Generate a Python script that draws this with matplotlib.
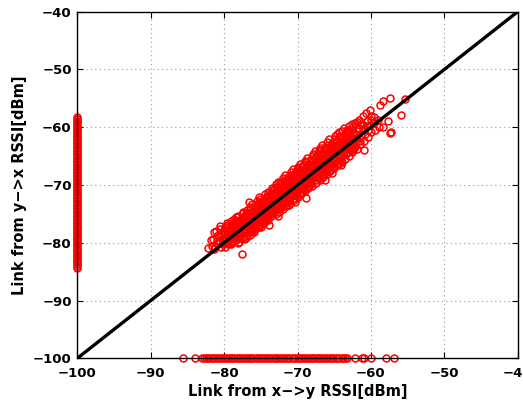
import matplotlib
matplotlib.use("Agg")
import matplotlib.pyplot as plt

# ---- data (dBm): RSSI pairs (x->y, y->x) for links heard in both directions ----
cloud_x = [
    -82.13,-81.82,
    -81.68,-81.41,-81.57,-81.33,
    -81.09,-80.93,-81.18,-80.84,-81.02,
    -80.61,-80.43,-80.67,-80.36,-80.52,-80.57,
    -80.08,-79.92,-80.17,-79.86,-80.03,-80.12,-79.95,
    -79.58,-79.42,-79.66,-79.35,-79.52,-79.61,-79.44,-79.49,
    -79.07,-78.93,-79.16,-78.86,-79.03,-78.96,-79.21,-78.84,-79.12,
    -78.58,-78.42,-78.66,-78.37,-78.53,-78.45,-78.71,-78.34,-78.61,-78.48,
    -78.12,-77.91,-78.23,-77.85,-78.04,-78.17,-77.96,-78.08,-77.88,-78.19,-77.99,
    -77.52,-77.38,-77.66,-77.44,-77.71,-77.29,-77.57,-77.35,-77.63,-77.48,-77.41,-77.69,
    -77.09,-76.93,-77.18,-76.84,-77.03,-76.97,-77.14,-76.88,-77.22,-76.91,-77.06,-76.82,
    -76.58,-76.41,-76.67,-76.36,-76.52,-76.44,-76.71,-76.33,-76.61,-76.47,-76.39,-76.55,-76.64,
    -76.11,-75.92,-76.19,-75.86,-76.04,-75.97,-76.23,-75.83,-76.08,-75.95,-76.15,-75.89,-76.02,
    -75.57,-75.42,-75.66,-75.34,-75.51,-75.46,-75.72,-75.38,-75.61,-75.44,-75.55,-75.31,-75.69,
    -75.06,-74.91,-75.17,-74.87,-75.02,-74.95,-75.21,-74.83,-75.11,-74.98,-75.14,-74.89,-75.04,-74.93,
    -74.62,-74.39,-74.58,-74.33,-74.51,-74.46,-74.69,-74.37,-74.55,-74.42,-74.64,-74.35,-74.48,-74.60,
    -74.08,-73.94,-74.16,-73.85,-74.03,-73.97,-74.22,-73.88,-74.11,-73.91,-74.05,-73.82,-74.19,-73.99,
    -73.56,-73.43,-73.64,-73.36,-73.52,-73.47,-73.71,-73.32,-73.59,-73.41,-73.67,-73.38,-73.54,-73.45,
    -73.07,-72.92,-73.16,-72.86,-73.03,-72.96,-73.21,-72.84,-73.12,-72.94,-73.09,-72.89,-73.18,-72.98,
    -72.58,-72.42,-72.66,-72.37,-72.53,-72.45,-72.71,-72.34,-72.61,-72.44,-72.56,-72.39,-72.68,-72.47,
    -72.09,-71.93,-72.17,-71.86,-72.04,-71.96,-72.22,-71.84,-72.12,-71.91,-72.06,-71.88,-72.14,-71.98,
    -71.57,-71.42,-71.66,-71.35,-71.52,-71.46,-71.71,-71.33,-71.61,-71.44,-71.55,-71.38,-71.68,-71.49,
    -71.08,-70.92,-71.16,-70.86,-71.03,-70.96,-71.21,-70.84,-71.12,-70.94,-71.06,-70.89,-71.18,-70.98,
    -70.56,-70.43,-70.64,-70.36,-70.52,-70.47,-70.71,-70.32,-70.59,-70.41,-70.67,-70.38,-70.54,-70.45,
    -70.07,-69.92,-70.16,-69.86,-70.03,-69.96,-70.21,-69.84,-70.12,-69.94,-70.09,-69.89,-70.18,-69.98,
    -69.58,-69.42,-69.66,-69.37,-69.53,-69.45,-69.71,-69.34,-69.61,-69.44,-69.56,-69.39,-69.68,-69.47,
    -69.07,-68.93,-69.17,-68.86,-69.03,-68.96,-69.22,-68.84,-69.12,-68.91,-69.05,-68.88,-69.14,-68.98,
    -68.57,-68.42,-68.66,-68.35,-68.52,-68.46,-68.71,-68.33,-68.61,-68.44,-68.55,-68.38,-68.68,-68.49,
    -68.08,-67.92,-68.16,-67.86,-68.03,-67.96,-68.21,-67.84,-68.12,-67.94,-68.06,-67.89,-68.18,-67.98,
    -67.56,-67.43,-67.64,-67.36,-67.52,-67.47,-67.71,-67.32,-67.59,-67.41,-67.67,-67.38,-67.54,-67.45,
    -67.07,-66.92,-67.16,-66.86,-67.03,-66.96,-67.21,-66.84,-67.12,-66.94,-67.09,-66.89,-67.18,-66.98,
    -66.58,-66.42,-66.66,-66.37,-66.53,-66.45,-66.71,-66.34,-66.61,-66.44,-66.56,-66.39,-66.68,
    -66.07,-65.93,-66.17,-65.86,-66.03,-65.96,-66.22,-65.84,-66.12,-65.91,-66.05,-65.88,-66.14,
    -65.57,-65.42,-65.66,-65.35,-65.52,-65.46,-65.71,-65.33,-65.61,-65.44,-65.55,-65.38,
    -65.08,-64.92,-65.16,-64.86,-65.03,-64.96,-65.21,-64.84,-65.12,-64.94,-65.06,-64.89,
    -64.56,-64.43,-64.64,-64.36,-64.52,-64.47,-64.71,-64.32,-64.59,-64.41,-64.40,
    -64.07,-63.92,-64.16,-63.86,-64.03,-63.96,-64.21,-63.84,-64.12,-63.94,
    -63.58,-63.42,-63.66,-63.37,-63.53,-63.45,-63.71,-63.34,-63.21,-63.48,
    -63.07,-62.93,-63.17,-62.86,-63.03,-62.96,-63.21,-62.84,-63.12,
    -62.56,-62.43,-62.64,-62.36,-62.52,-62.47,-62.71,-62.38,
    -62.07,-61.92,-62.16,-61.86,-62.03,-61.96,-62.19,
    -61.58,-61.42,-61.66,-61.35,-61.52,-61.47,
    -61.07,-60.93,-61.16,-60.86,-61.03,
    -60.56,-60.43,-60.64,-60.36,-60.52,
    -60.08,-59.92,-60.03,-60.12,
    -59.57,-59.42,-59.51,
    -59.08,-58.91,
    -58.40,-58.70,-57.40,-55.40,-55.90,-57.20,-57.40,-58.30,-57.70,-60.00,
]
cloud_y = [
    -80.9,-79.6,
    -80.5,-78.1,-79.3,-81.1,
    -78.0,-79.5,-80.8,-78.7,-80.1,
    -77.6,-80.7,-79.0,-78.3,-79.8,-77.1,
    -78.5,-77.3,-80.3,-79.2,-77.8,-79.7,-80.0,
    -77.9,-80.2,-76.6,-79.4,-78.4,-76.9,-79.8,-77.2,
    -76.2,-79.9,-78.4,-77.0,-80.0,-77.6,-79.2,-76.5,-78.8,
    -77.1,-79.6,-75.8,-78.2,-76.4,-79.2,-77.7,-75.5,-78.9,-76.9,
    -77.4,-79.8,-75.6,-78.3,-76.7,-80.1,-77.9,-75.3,-79.1,-76.2,-78.8,
    -81.9,-76.1,-78.6,-74.9,-77.3,-79.4,-75.7,-78.0,-76.6,-79.0,-74.6,-77.8,
    -75.3,-78.9,-76.8,-74.4,-77.6,-79.2,-75.9,-77.1,-78.3,-74.9,-76.2,-78.0,
    -73.0,-77.8,-75.1,-76.4,-78.6,-74.3,-77.2,-75.7,-76.9,-73.8,-78.1,-74.8,-76.0,
    -74.6,-77.3,-73.3,-76.1,-78.0,-75.2,-76.8,-73.9,-77.6,-74.9,-75.6,-78.2,-76.4,
    -76.2,-73.1,-77.5,-74.7,-75.5,-72.8,-76.9,-74.0,-75.9,-77.1,-73.6,-75.1,-74.3,
    -72.4,-75.8,-76.9,-73.7,-74.6,-77.2,-72.1,-75.2,-73.2,-76.4,-74.1,-75.5,-76.0,-73.0,
    -75.1,-72.3,-76.5,-73.6,-74.2,-71.6,-75.9,-73.0,-74.8,-76.2,-72.7,-74.5,-73.3,-75.6,
    -71.2,-74.4,-75.7,-72.6,-73.3,-76.1,-71.9,-74.9,-72.2,-73.8,-75.2,-73.0,-74.1,-72.8,
    -73.9,-70.6,-75.4,-72.0,-74.6,-72.9,-71.3,-75.0,-73.4,-70.9,-74.2,-72.5,-71.7,-73.1,
    -72.3,-69.9,-74.7,-71.4,-73.5,-75.1,-70.7,-72.9,-74.1,-71.1,-73.1,-70.3,-72.0,-74.4,
    -70.4,-73.7,-69.4,-72.4,-74.6,-71.0,-73.2,-70.0,-71.8,-74.0,-72.8,-69.7,-71.4,-73.5,
    -71.6,-68.8,-73.3,-70.3,-72.5,-74.1,-69.5,-71.0,-73.8,-70.8,-72.1,-69.1,-72.9,-71.3,
    -69.4,-72.6,-68.3,-71.1,-73.6,-70.0,-72.2,-68.9,-70.6,-73.1,-71.7,-69.7,-72.9,-70.3,
    -70.9,-67.8,-72.4,-69.3,-71.6,-73.1,-68.5,-70.2,-72.8,-69.9,-71.2,-68.2,-72.0,-70.5,
    -68.4,-71.8,-67.3,-70.2,-72.6,-69.0,-71.3,-67.9,-69.7,-72.2,-70.8,-68.7,-71.0,-69.4,
    -69.8,-66.8,-71.5,-68.3,-70.6,-72.1,-67.5,-69.2,-71.9,-68.9,-70.2,-67.1,-71.1,-69.5,
    -67.4,-70.7,-66.3,-69.2,-71.6,-68.0,-70.3,-66.9,-68.6,-71.2,-69.8,-67.7,-70.0,-68.3,
    -68.9,-65.8,-70.4,-67.3,-69.6,-71.1,-66.5,-68.2,-70.8,-67.9,-69.2,-66.1,-70.0,-68.5,
    -66.4,-69.7,-65.3,-68.2,-70.6,-67.0,-69.3,-65.9,-67.6,-70.2,-68.8,-66.7,-69.0,-67.3,
    -67.9,-64.7,-69.4,-66.3,-68.6,-70.1,-65.5,-67.2,-69.8,-66.9,-68.2,-65.0,-69.0,-67.5,
    -65.4,-68.7,-64.2,-67.2,-69.6,-66.0,-68.3,-64.9,-66.6,-69.2,-67.8,-65.7,-68.0,-66.3,
    -66.9,-63.6,-68.4,-65.3,-67.6,-69.1,-64.5,-66.2,-68.8,-65.9,-67.2,-64.0,-68.0,-66.5,
    -64.4,-67.7,-63.1,-66.2,-68.6,-65.0,-67.3,-63.9,-65.6,-68.2,-66.8,-64.7,-67.0,
    -65.9,-62.6,-67.4,-64.3,-66.6,-68.1,-63.5,-65.2,-67.8,-64.9,-66.2,-63.0,-67.0,
    -63.4,-66.7,-62.1,-65.2,-67.6,-64.0,-66.3,-62.9,-64.6,-67.2,-65.8,-63.7,
    -64.9,-61.5,-66.4,-63.3,-65.6,-67.1,-62.5,-64.2,-66.8,-63.9,-65.2,-62.0,
    -62.4,-65.7,-61.2,-64.2,-66.6,-63.0,-65.3,-61.9,-63.6,-66.2,-60.9,
    -63.9,-60.6,-65.4,-62.3,-64.6,-66.1,-61.5,-63.2,-65.8,-62.8,
    -61.4,-64.7,-60.2,-63.2,-65.5,-62.0,-64.2,-60.8,-60.9,-62.6,
    -62.9,-59.8,-64.3,-61.3,-63.6,-64.9,-60.5,-62.2,-61.7,
    -60.4,-63.7,-59.4,-62.2,-64.3,-61.0,-63.0,-59.9,
    -61.9,-59.1,-63.4,-60.3,-62.6,-63.8,-59.2,
    -60.2,-62.9,-58.7,-61.5,-62.3,-59.6,
    -58.1,-62.4,-59.4,-61.2,-60.3,
    -59.7,-61.7,-57.6,-60.5,-58.9,
    -57.0,-60.9,-58.0,-59.6,
    -58.2,-60.4,-59.3,
    -58.8,-59.9,
    -55.5,-56.1,-54.9,-55.1,-57.9,-60.8,-61.0,-59.9,-59.0,-58.7,
]

# the solid core of the cloud, close to the diagonal
core_x = [
    -79.90,-79.78,-80.00, -79.55,-79.43,-79.65, -79.20,-79.08,-79.30,
    -78.85,-78.73,-78.95, -78.50,-78.38,-78.60, -78.15,-78.03,-78.25,
    -77.80,-77.68,-77.90, -77.45,-77.33,-77.55, -77.10,-76.98,-77.20,
    -76.75,-76.63,-76.85, -76.40,-76.28,-76.50, -76.05,-75.93,-76.15,
    -75.70,-75.58,-75.80, -75.35,-75.23,-75.45, -75.00,-74.88,-75.10,
    -74.65,-74.53,-74.75, -74.30,-74.18,-74.40, -73.95,-73.83,-74.05,
    -73.60,-73.48,-73.70, -73.25,-73.13,-73.35, -72.90,-72.78,-73.00,
    -72.55,-72.43,-72.65, -72.20,-72.08,-72.30, -71.85,-71.73,-71.95,
    -71.50,-71.38,-71.60, -71.15,-71.03,-71.25, -70.80,-70.68,-70.90,
    -70.45,-70.33,-70.55, -70.10,-69.98,-70.20, -69.75,-69.63,-69.85,
    -69.40,-69.28,-69.50, -69.05,-68.93,-69.15, -68.70,-68.58,-68.80,
    -68.35,-68.23,-68.45, -68.00,-67.88,-68.10, -67.65,-67.53,-67.75,
    -67.30,-67.18,-67.40, -66.95,-66.83,-67.05, -66.60,-66.48,-66.70,
    -66.25,-66.13,-66.35, -65.90,-65.78,-66.00, -65.55,-65.43,-65.65,
    -65.20,-65.08,-65.30, -64.85,-64.73,-64.95, -64.50,-64.38,-64.60,
    -64.15,-64.03,-64.25, -63.80,-63.68,-63.90, -63.45,-63.33,-63.55,
    -63.10,-62.98,-63.20, -62.75,-62.63,-62.85, -62.40,-62.28,-62.50,
]
core_y = [
    -80.8,-79.2,-78.2, -78.6,-77.3,-80.1, -79.0,-80.3,-78.0,
    -78.5,-79.7,-77.0, -79.1,-77.5,-77.0, -78.0,-79.2,-77.0,
    -78.7,-77.1,-76.1, -78.1,-76.4,-76.0, -76.1,-74.9,-77.6,
    -76.4,-77.6,-74.9, -76.2,-77.5,-75.2, -76.7,-75.0,-74.6,
    -76.6,-75.0,-74.0, -75.0,-76.2,-73.5, -74.0,-72.8,-75.5,
    -74.5,-75.7,-73.5, -74.9,-73.3,-72.8, -74.9,-73.2,-72.3,
    -72.6,-71.4,-74.1, -72.9,-74.1,-71.4, -72.7,-74.0,-71.7,
    -73.5,-71.8,-70.9, -72.8,-71.2,-70.7, -70.9,-69.6,-72.4,
    -71.1,-72.4,-69.6, -71.0,-72.2,-70.0, -71.4,-69.8,-69.3,
    -71.4,-69.7,-68.8, -69.1,-67.9,-70.6, -69.4,-70.6,-67.9,
    -69.2,-70.5,-68.2, -69.7,-68.0,-67.6, -69.6,-68.0,-67.0,
    -68.0,-69.2,-66.5, -67.0,-65.8,-68.5, -67.5,-68.7,-66.5,
    -67.9,-66.3,-65.8, -67.9,-66.2,-65.3, -65.6,-64.4,-67.1,
    -65.9,-67.1,-64.4, -65.7,-67.0,-64.7, -66.2,-64.5,-64.1,
    -66.1,-64.5,-63.5, -63.9,-62.6,-65.4, -64.1,-65.4,-62.6,
    -64.0,-65.2,-63.0, -64.4,-62.8,-62.3, -64.4,-62.7,-61.8,
    -62.1,-60.9,-63.6, -62.4,-63.6,-60.9, -62.2,-63.5,-61.2,
]

# scattered points on the edges of the cloud
edge_x = [-75.3, -73.9, -71.2, -68.9, -66.2, -64.1, -62.5, -61.0,
          -67.1, -62.1, -70.3, -72.6, -65.3]
edge_y = [-77.2, -76.9, -73.4, -72.3, -69.1, -66.5, -63.9, -63.9,
          -64.2, -59.2, -73.0, -75.4, -68.0]

# links where only y->x was heard (x->y logged as -100)
left_y = [
    -58.2,-58.5,-58.9,-59.1,-59.4,-59.8,-60.0,-60.3,-60.6,-60.8,
    -61.1,-61.5,-61.7,-62.0,-62.2,-62.6,-62.8,-63.1,-63.4,-63.6,
    -63.9,-64.2,-64.5,-64.7,-65.0,-65.3,-65.5,-65.8,-66.1,-66.3,
    -66.6,-66.9,-67.2,-67.4,-67.7,-68.0,-68.2,-68.5,-68.8,-69.0,
    -69.3,-69.6,-69.9,-70.1,-70.4,-70.7,-70.9,-71.2,-71.5,-71.8,
    -72.0,-72.3,-72.6,-72.8,-73.1,-73.4,-73.6,-73.9,-74.2,-74.5,
    -74.7,-75.0,-75.3,-75.5,-75.8,-76.1,-76.4,-76.6,-76.9,-77.2,
    -77.4,-77.7,-78.0,-78.3,-78.5,-78.8,-79.1,-79.3,-79.6,-79.9,
    -80.2,-80.4,-80.7,-81.0,-81.2,-81.5,-81.8,-82.1,-82.3,-82.6,
    -82.9,-83.1,-83.4,-83.7,-84.0,-84.4,
]
left_x = [-100.0] * len(left_y)

# links where only x->y was heard (y->x logged as -100)
bottom_x = [
    -85.6,-84.0,
    -83.0,-82.8,-82.5,-82.2,-82.0,-81.7,-81.5,-81.2,-80.9,-80.7,
    -80.4,-80.2,-79.9,-79.6,-79.4,-79.1,-78.9,-78.6,-78.3,-78.1,
    -77.8,-77.6,-77.3,-77.0,-76.8,-76.5,-76.3,-76.0,-75.7,-75.5,
    -75.2,-75.0,-74.7,-74.4,-74.2,-73.9,-73.7,-73.4,-73.1,-72.9,
    -72.6,-72.4,-72.1,-71.8,-71.6,-71.3,-71.1,-70.8,-70.5,-70.3,
    -70.0,-69.8,-69.5,-69.2,-69.0,-68.7,-68.5,-68.2,-67.9,-67.7,
    -67.4,-67.2,-66.9,-66.6,-66.4,-66.1,-65.9,-65.6,-65.3,-65.1,
    -64.8,-64.6,-64.3,-64.0,-63.8,-63.5,-63.2,
    -62.2,-61.2,-60.9,-60.0,-58.0,-56.9,
]
bottom_y = [-100.0] * len(bottom_x)

diag = [-100, -40]
ticks = [-100, -90, -80, -70, -60, -50, -40]

plt.rcParams['font.family'] = ['DejaVu Sans']

fig = plt.figure(figsize=(5.23, 4.03), dpi=100)
ax = fig.add_axes([77.3/523, (403-358.3)/403, (517.7-77.3)/523, (358.3-11.7)/403])

mk = dict(marker='o', linestyle='none', markersize=5.0, markerfacecolor='none',
          markeredgecolor='#ff0000', markeredgewidth=1.1, clip_on=False, zorder=3)
ax.plot(left_x, left_y, **mk)
ax.plot(bottom_x, bottom_y, **mk)
ax.plot(cloud_x, cloud_y, **mk)
ax.plot(core_x, core_y, **mk)
ax.plot(edge_x, edge_y, **mk)
ax.plot(diag, diag, color='black', linewidth=2.4, zorder=5)

ax.set_xlim(-100, -40)
ax.set_ylim(-100, -40)
ax.set_xticks(ticks)
ax.set_yticks(ticks)
ax.grid(True, linestyle=(0, (1, 3)), color='#999999', linewidth=0.8)
ax.set_axisbelow(True)
ax.tick_params(direction='in', top=True, right=True, length=4, width=0.8,
               labelsize=9.5)
ax.tick_params(axis='x', pad=6.5)
ax.tick_params(axis='y', pad=4)
for lab in ax.get_xticklabels() + ax.get_yticklabels():
    lab.set_fontweight('bold')
for s in ax.spines.values():
    s.set_linewidth(1.0)
    s.set_zorder(6)

ax.set_xlabel('Link from x\u2212>y RSSI[dBm]', fontsize=10.5, fontweight='bold', labelpad=3)
ax.set_ylabel('Link from y\u2212>x RSSI[dBm]', fontsize=10.5, fontweight='bold', labelpad=4)

fig.savefig('out.png', dpi=100)
